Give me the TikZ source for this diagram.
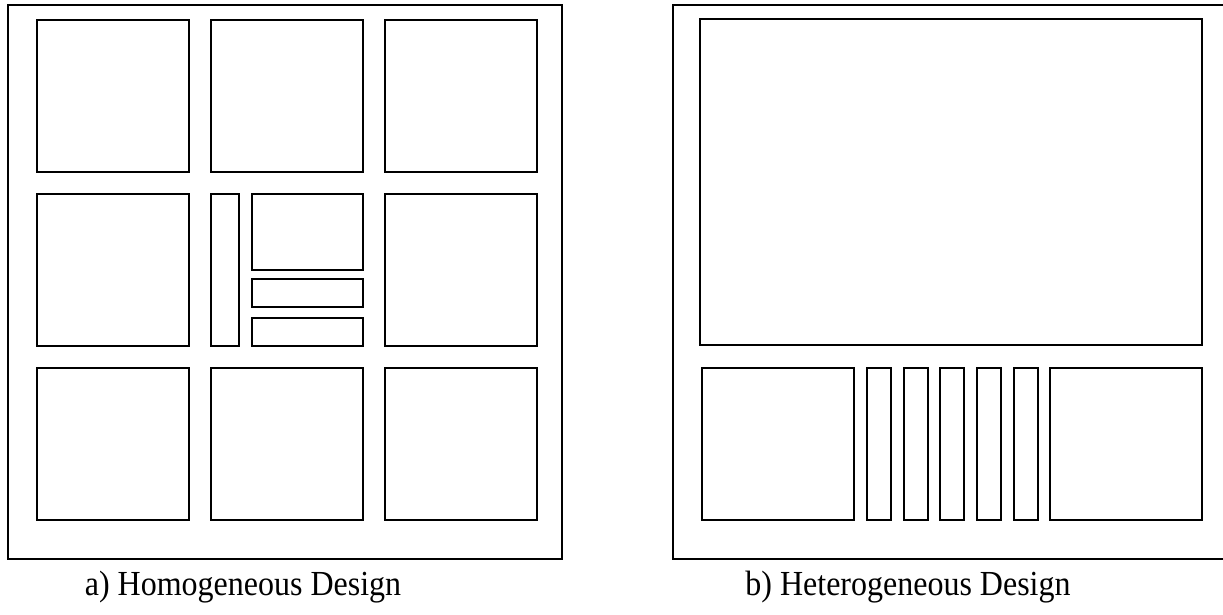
\documentclass[tikz,border=0pt]{standalone}
\usepackage{fontspec}
\setmainfont{Liberation Serif}
\begin{document}
\begin{tikzpicture}[x=1pt,y=-1pt,
  cell/.style={draw=black,line width=1.8pt},
  frame/.style={draw=black,line width=1.6pt},
  caption/.style={anchor=base,inner sep=0pt,font=\fontsize{32}{36}\selectfont}]
\useasboundingbox (0,0) rectangle (1223,614);
% ---- a) Homogeneous ----
\draw[frame] (8,5) rectangle (562,559);
\draw[cell] (37,20) rectangle (189,172);
\draw[cell] (211,20) rectangle (363,172);
\draw[cell] (385,20) rectangle (537,172);
\draw[cell] (37,194) rectangle (189,346);
\draw[cell] (211,194) rectangle (239,346);
\draw[cell] (252,194) rectangle (363,270);
\draw[cell] (252,279) rectangle (363,307);
\draw[cell] (252,318) rectangle (363,346);
\draw[cell] (385,194) rectangle (537,346);
\draw[cell] (37,368) rectangle (189,520);
\draw[cell] (211,368) rectangle (363,520);
\draw[cell] (385,368) rectangle (537,520);
\node[caption] (capa) at (243,595) {\scalebox{1}[1.1]{a) Homogeneous Design}};
% ---- b) Heterogeneous ----
\draw[frame] (1223,5) -- (673,5) -- (673,559) -- (1223,559);
\draw[cell] (700,19) rectangle (1202,345);
\draw[cell] (702,368) rectangle (854,520);
\foreach \x in {867,903.7,940.3,977,1013.7}{
  \draw[cell] (\x,368) rectangle ({\x+24},520);
}
\draw[cell] (1050,368) rectangle (1202,520);
\node[caption] (capb) at (908,595) {\scalebox{1}[1.1]{b) Heterogeneous Design}};
\end{tikzpicture}
\end{document}
